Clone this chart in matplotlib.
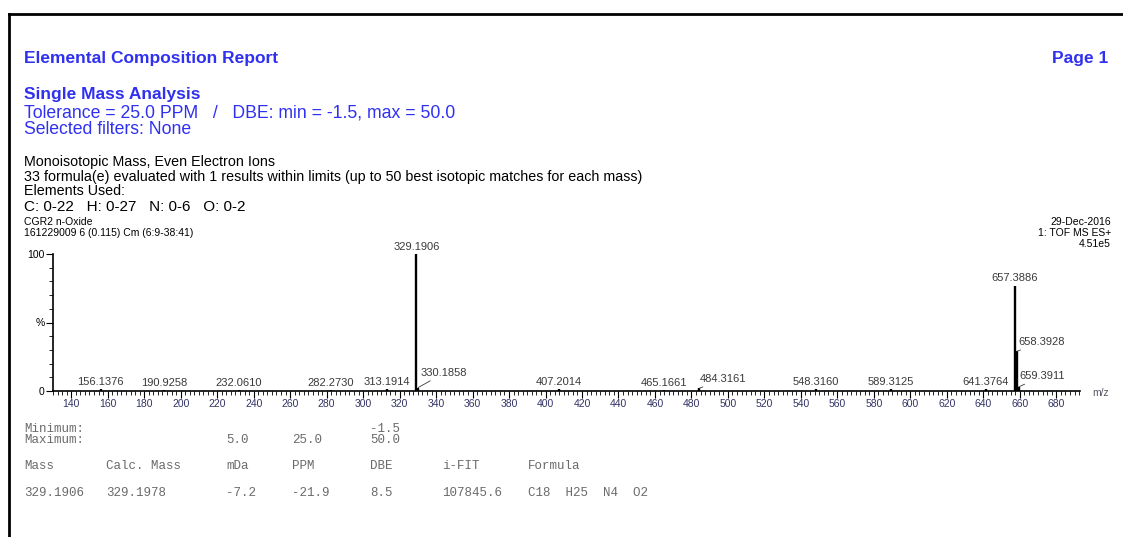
import matplotlib
matplotlib.use("Agg")
import matplotlib.pyplot as plt
from matplotlib.ticker import MultipleLocator, FixedLocator, FixedFormatter
from matplotlib.lines import Line2D

plt.rcParams['font.family'] = ['Liberation Sans', 'DejaVu Sans']

W, H = 1123, 537
BLUE = '#3030f0'
GREY = '#3a3a3a'

# spectrum peaks (m/z, relative intensity %)
mz = [156.1376, 190.9258, 232.0610, 282.2730, 313.1914, 329.1906, 330.1858,
      407.2014, 465.1661, 484.3161, 548.3160, 589.3125, 641.3764,
      657.3886, 658.3928, 659.3911]
inten = [1.5, 1.0, 1.0, 1.0, 1.5, 100.0, 2.5,
         1.5, 1.0, 2.0, 1.5, 1.5, 1.5,
         77.0, 29.0, 3.0]
# peaks whose label sits off to the right with a leader line
offset_labels = {330.1858: (1.5, 7), 484.3161: (0.5, 3), 658.3928: (1.0, 3), 659.3911: (0.2, 4)}

# results table
tbl_cols = ['Mass', 'Calc. Mass', 'mDa', 'PPM', 'DBE', 'i-FIT', 'Formula']
tbl_row = ['329.1906', '329.1978', '-7.2', '-21.9', '8.5', '107845.6', 'C18  H25  N4  O2']
tbl_min = ['', '', '', '', '-1.5', '', '']
tbl_max = ['', '', '5.0', '25.0', '50.0', '', '']
col_x = [24, 106, 226, 292, 370, 442, 528]


def px(x, y):
    return x / W, 1 - y / H


fig = plt.figure(figsize=(W / 100, H / 100), dpi=100)
fig.patch.set_facecolor('white')

# page frame (top and left edges)
fig.add_artist(Line2D([9 / W, 1], [1 - 14 / H, 1 - 14 / H], color='black', lw=2))
fig.add_artist(Line2D([9 / W, 9 / W], [0, 1 - 14 / H], color='black', lw=2))

# header
fig.text(*px(24, 58), 'Elemental Composition Report', color=BLUE, fontsize=12.5,
         fontweight='bold', va='center')
fig.text(*px(1108, 58), 'Page 1', color=BLUE, fontsize=12.5, fontweight='bold',
         va='center', ha='right')
fig.text(*px(24, 95), 'Single Mass Analysis', color=BLUE, fontsize=12.5,
         fontweight='bold', va='center')
fig.text(*px(24, 113), 'Tolerance = 25.0 PPM   /   DBE: min = -1.5, max = 50.0',
         color=BLUE, fontsize=12.7, va='center')
fig.text(*px(24, 130), 'Selected filters: None', color=BLUE, fontsize=12.7, va='center')

fig.text(*px(24, 162), 'Monoisotopic Mass, Even Electron Ions', fontsize=10.3, va='center')
fig.text(*px(24, 177), '33 formula(e) evaluated with 1 results within limits '
         '(up to 50 best isotopic matches for each mass)', fontsize=10.3, va='center')
fig.text(*px(24, 191), 'Elements Used:', fontsize=10.3, va='center')
fig.text(*px(24, 207), 'C: 0-22   H: 0-27   N: 0-6   O: 0-2', fontsize=11, va='center')

fig.text(*px(24, 222), 'CGR2 n-Oxide', fontsize=7.5, va='center')
fig.text(*px(24, 233), '161229009 6 (0.115) Cm (6:9-38:41)', fontsize=7.5, va='center')
fig.text(*px(1111, 222), '29-Dec-2016', fontsize=7.5, va='center', ha='right')
fig.text(*px(1111, 233), '1: TOF MS ES+', fontsize=7.5, va='center', ha='right')
fig.text(*px(1111, 244), '4.51e5', fontsize=7.5, va='center', ha='right')

# spectrum axes
x0, x1, y_base, y_top = 53, 1080, 391, 254
ax = fig.add_axes([x0 / W, 1 - y_base / H, (x1 - x0) / W, (y_base - y_top) / H])
ax.vlines(mz, 0, inten, color='black', lw=1.7)
ax.set_xlim(130, 693)
ax.set_ylim(0, 100)

for m, v in zip(mz, inten):
    if m in offset_labels:
        dx, dy = offset_labels[m]
        ax.annotate(f'{m:.4f}', xy=(m, v), xytext=(m + dx, v + dy), fontsize=8,
                    color=GREY, ha='left', va='bottom', annotation_clip=False,
                    arrowprops=dict(arrowstyle='-', lw=0.6, color=GREY,
                                    shrinkA=0, shrinkB=0))
    else:
        ax.text(m, v + 1.5, f'{m:.4f}', fontsize=8, color=GREY, ha='center',
                va='bottom', clip_on=False)

for s in ['top', 'right']:
    ax.spines[s].set_visible(False)
ax.spines['left'].set_linewidth(1.2)
ax.spines['bottom'].set_linewidth(1.2)

ax.set_xticks(list(range(140, 681, 20)))
ax.xaxis.set_minor_locator(MultipleLocator(2.5))
ax.tick_params(axis='x', which='major', length=5, width=0.8, labelsize=7.5,
               pad=1, labelcolor='#333366')
ax.tick_params(axis='x', which='minor', length=3, width=0.6)

ax.yaxis.set_major_locator(FixedLocator([0, 50, 100]))
ax.yaxis.set_major_formatter(FixedFormatter(['0', '%', '100']))
ax.yaxis.set_minor_locator(MultipleLocator(10))
ax.tick_params(axis='y', which='major', length=5, width=0.8, labelsize=7.5, pad=1)
ax.tick_params(axis='y', which='minor', length=3, width=0.6)
ax.set_facecolor('none')

fig.text(*px(1092, 393), 'm/z', fontsize=7.5, color='#555566', va='center')

# results table
mono = dict(family=['Liberation Mono', 'DejaVu Sans Mono'], fontsize=9,
            color='#6a6a6a', va='center')
fig.text(*px(24, 429), 'Minimum:', **mono)
fig.text(*px(24, 440), 'Maximum:', **mono)
for x, a, b, c, d in zip(col_x, tbl_min, tbl_max, tbl_cols, tbl_row):
    if a:
        fig.text(*px(x, 429), a, **mono)
    if b:
        fig.text(*px(x, 440), b, **mono)
    fig.text(*px(x, 466), c, **mono)
    fig.text(*px(x, 493), d, **mono)

fig.savefig('out.png', dpi=100)
